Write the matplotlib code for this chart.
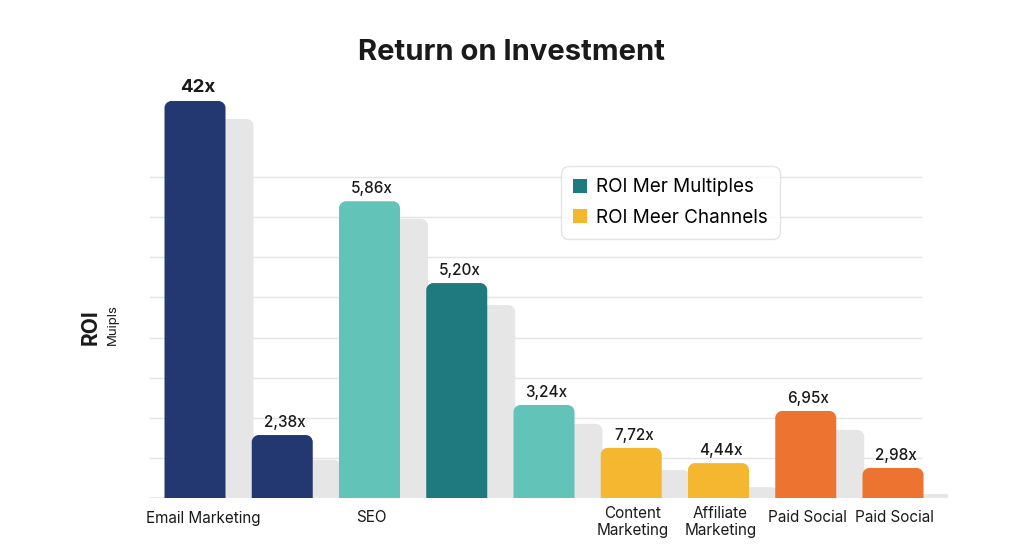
import matplotlib
matplotlib.use("Agg")
import matplotlib.pyplot as plt
from matplotlib.patches import Rectangle, PathPatch
from matplotlib.path import Path
from matplotlib.transforms import blended_transform_factory

plt.rcParams['font.family'] = ['Inter', 'DejaVu Sans']

# ---- data ----
bar_heights = [9.9, 1.57, 7.4, 5.36, 2.32, 1.25, 0.87, 2.17, 0.75]
shadow_heights = [9.45, 0.95, 6.96, 4.81, 1.85, 0.70, 0.27, 1.70, 0.10]
value_labels = ["42x", "2,38x", "5,86x", "5,20x", "3,24x", "7,72x", "4,44x", "6,95x", "2,98x"]
category_labels = ["Email Marketing", "", "SEO", "", "", "Content\nMarketing",
                   "Affiliate\nMarketing", "Paid Social", "Paid Social"]
bar_colors = ["#233870", "#233870", "#62C4B8", "#1F7A80", "#62C4B8",
              "#F5B730", "#F5B730", "#EC7430", "#EC7430"]
legend_labels = ["ROI Mer Multiples", "ROI Meer Channels"]
legend_colors = ["#1F7A80", "#F5B730"]
grid_levels = [1, 2, 3, 4, 5, 6, 7, 8]

PX_X = 87.25   # pixels per x unit
PX_Y = 40.1    # pixels per y unit

fig = plt.figure(figsize=(10.24, 5.59), dpi=100)
ax = fig.add_axes([150/1024, 61/559, 798/1024, 428/559])
x_left = -(195 - 150) / PX_X
x_right = x_left + 798 / PX_X
ax.set_xlim(x_left, x_right)
ax.set_ylim(0, 428 / PX_Y)
for s in ax.spines.values():
    s.set_visible(False)
ax.set_xticks([])
ax.set_yticks([])

# grid
grid_end = x_left + (921 - 150) / PX_X
for g in grid_levels:
    ax.plot([x_left, grid_end], [g, g], color="#E4E4E4", lw=1.0, zorder=0)
ax.plot([x_left, x_right], [0, 0], color="#E4E4E4", lw=1.2, zorder=0)

W = 61 / PX_X
OFF = 28 / PX_X
RPX = 7.0
K = 0.5523

def rbar(x0, h, color, z):
    rx = RPX / PX_X
    ry = min(RPX / PX_Y, h / 2)
    rx = min(rx, ry * PX_Y / PX_X)
    x1 = x0 + W
    verts = [(x0, 0), (x0, h - ry),
             (x0, h - ry + K * ry), (x0 + rx - K * rx, h), (x0 + rx, h),
             (x1 - rx, h),
             (x1 - rx + K * rx, h), (x1, h - ry + K * ry), (x1, h - ry),
             (x1, 0), (x0, 0)]
    codes = [Path.MOVETO, Path.LINETO,
             Path.CURVE4, Path.CURVE4, Path.CURVE4,
             Path.LINETO,
             Path.CURVE4, Path.CURVE4, Path.CURVE4,
             Path.LINETO, Path.CLOSEPOLY]
    ax.add_patch(PathPatch(Path(verts, codes), fc=color, ec="none", lw=0, zorder=z))

xs = list(range(len(bar_heights)))
bars = ax.bar(xs, bar_heights, width=W, color="none", zorder=1)
for b, sh, c in zip(bars, shadow_heights, bar_colors):
    x0 = b.get_x()
    h = b.get_height()
    rbar(x0 + OFF, sh, "#E6E6E6", 1)
    rbar(x0, h, c, 2)

# value labels
for i, (x, h, lab) in enumerate(zip(xs, bar_heights, value_labels)):
    ax.text(x + 0.03, h + (0.12 if i == 0 else 0.13), lab, ha="center", va="bottom",
            fontsize=13.5 if i == 0 else 11, fontweight="bold" if i == 0 else "medium",
            color="#1a1a1a", zorder=3)

# category labels
trans = blended_transform_factory(ax.transData, fig.transFigure)
for x, lab in zip(xs, category_labels):
    if not lab:
        continue
    nl = lab.count("\n")
    y = 1 - (522 if nl else 518) / 559
    ax.text(x + (0.09 if x == 0 else 0.02), y, lab, transform=trans, ha="center", va="center",
            fontsize=11, color="#1a1a1a", linespacing=1.25)

# title
fig.text(512/1024, 1 - 53/559, "Return on Investment", ha="center", va="center",
         fontsize=21, fontweight="bold", color="#1a1a1a")

# y labels
fig.text(91/1024, 1 - 327/559, "ROI", rotation=90, ha="center", va="center",
         fontsize=15, fontweight="bold", color="#1a1a1a")
fig.text(113/1024, 1 - 325/559, "Muipls", rotation=90, ha="center", va="center",
         fontsize=9.5, color="#1a1a1a")

# legend
handles = [Rectangle((0, 0), 1, 1, fc=c, ec="none") for c in legend_colors]
leg = ax.legend(handles, legend_labels, loc="upper left",
                bbox_to_anchor=((561 - 150) / 798, (498 - 166) / 428),
                fontsize=13.6, frameon=True, handlelength=0.75, handleheight=0.75,
                handletextpad=0.45, borderpad=0.65, labelspacing=0.65, fancybox=True,
                borderaxespad=0)
leg.get_frame().set_edgecolor("#DDDDDD")
leg.get_frame().set_linewidth(1.0)
leg.get_frame().set_boxstyle("round,pad=0,rounding_size=0.4")

fig.savefig("out.png", dpi=100, facecolor="white")
